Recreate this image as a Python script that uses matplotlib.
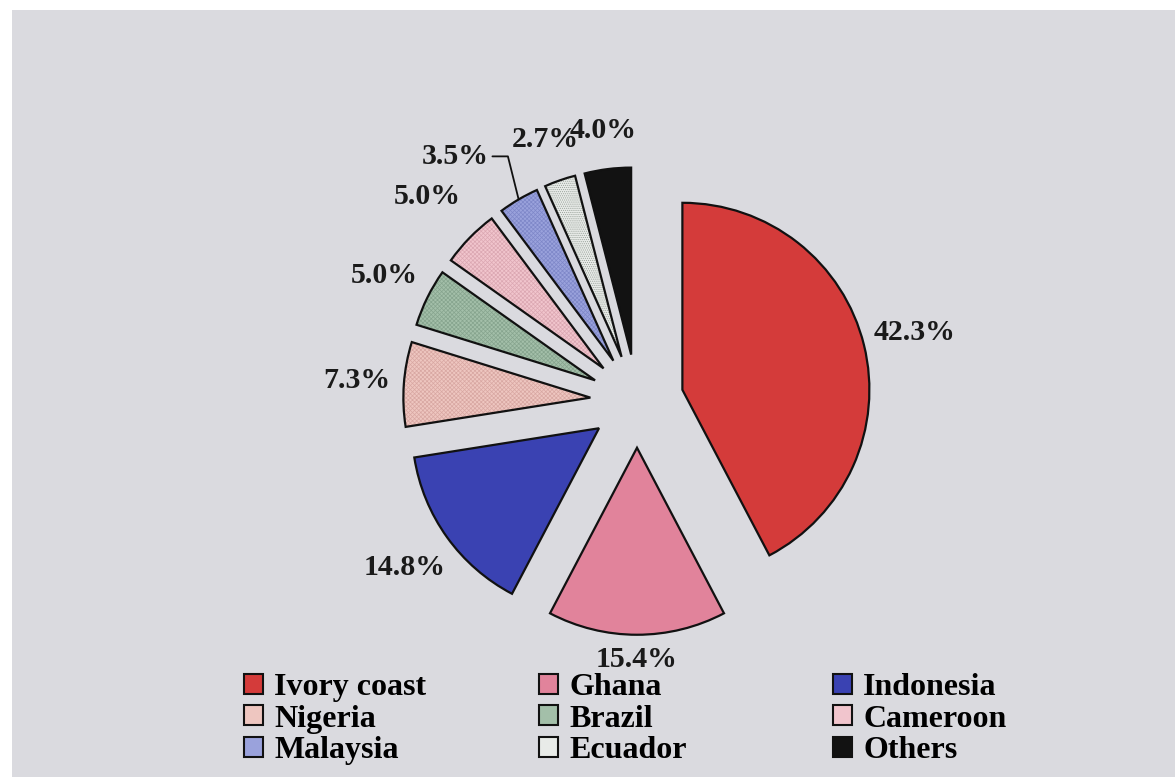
import numpy as np
import matplotlib
matplotlib.use("Agg")
import matplotlib.pyplot as plt
import matplotlib.patches as mpatches

# data
countries = ["Ivory coast", "Ghana", "Indonesia", "Nigeria", "Brazil",
             "Cameroon", "Malaysia", "Ecuador", "Others"]
shares = [42.3, 15.4, 14.8, 7.3, 5.0, 5.0, 3.5, 2.7, 4.0]
share_labels = ["42.3%", "15.4%", "14.8%", "7.3%", "5.0%", "5.0%", "3.5%", "2.7%", "4.0%"]

fill_colors = ["#d43b3a", "#e1839b", "#3a42b2", "#eec6c0", "#a3bfa9",
               "#f1c5cd", "#9aa2dc", "#e8ebe8", "#121212"]
texture_colors = [None, None, None, "#d8a7a2", "#86a48e", "#dba7b2", "#7e87c8", "#97a098", None]
hatches = [None, None, None, "xxxxxxxx", "xxxxxxxx", "xxxxxxxx", "xxxxxxxx", "........", None]

# label distance from each exploded wedge centre, in radii (None -> leader line)
label_dist = [1.28, 1.13, 1.28, 1.25, 1.26, 1.32, None, 1.23, 1.21]

W, H = 1175, 777
CX, CY, R = 637, 401, 187      # pie centre / radius in pixels
BG = "#dadadf"

plt.rcParams["hatch.linewidth"] = 0.5
font = dict(family="Liberation Serif", weight="bold")

fig = plt.figure(figsize=(W / 100, H / 100), dpi=100, facecolor="white")
fig.add_artist(mpatches.Rectangle((12 / W, 0), 1 - 12 / W, 1 - 10 / H,
                                  transform=fig.transFigure, facecolor=BG,
                                  edgecolor="none", zorder=-5))
ax = fig.add_axes([0, 0, 1, 1])

explode = [0.25] * len(shares)

# texture layer
tex, _ = ax.pie(shares, colors=fill_colors, startangle=90, counterclock=False,
                explode=explode, radius=1, hatch=hatches)
for w, tc in zip(tex, texture_colors):
    w.set_edgecolor(tc if tc else "none")
    w.set_linewidth(0)

# outline layer
wedges, _ = ax.pie(shares, colors=fill_colors, startangle=90, counterclock=False,
                   explode=explode, radius=1,
                   wedgeprops=dict(edgecolor="#111111", linewidth=1.6))
for w in wedges:
    w.set_facecolor("none")

for w, lab, d in zip(wedges, share_labels, label_dist):
    th = np.deg2rad((w.theta1 + w.theta2) / 2)
    cx, cy = w.center
    if d is None:
        xy = (cx + w.r * np.cos(th), cy + w.r * np.sin(th))
        ax.annotate(lab, xy=xy, xytext=(-46, 31), textcoords="offset points",
                    ha="center", va="center", fontsize=21.5, color="#1a1a1a", **font,
                    arrowprops=dict(arrowstyle="-", color="#111111", lw=1.3,
                                    relpos=(1, 0.5), shrinkA=1, shrinkB=0,
                                    connectionstyle="angle,angleA=0,angleB=104,rad=0"))
    else:
        ax.text(cx + d * w.r * np.cos(th), cy + d * w.r * np.sin(th), lab,
                ha="center", va="center", fontsize=21.5, color="#1a1a1a", **font)

ax.set_xlim(-CX / R, (W - CX) / R)
ax.set_ylim(-(H - CY) / R, CY / R)
ax.set_aspect("auto")
ax.axis("off")

# legend, three columns laid out row by row
handles = [mpatches.Patch(facecolor=c, edgecolor="#111111", linewidth=1.5)
           for c in fill_colors]
col_x = [244, 539, 833]
for j in range(3):
    idx = [j, j + 3, j + 6]
    fig.legend([handles[i] for i in idx], [countries[i] for i in idx],
               loc="upper left", bbox_to_anchor=(col_x[j] / W, 1 - 673 / H),
               frameon=False, borderpad=0, borderaxespad=0,
               handlelength=0.6, handleheight=0.6, handletextpad=0.35,
               labelspacing=0.08,
               prop=dict(family="Liberation Serif", weight="bold", size=23))

fig.savefig("out.png", dpi=100, facecolor=fig.get_facecolor())
